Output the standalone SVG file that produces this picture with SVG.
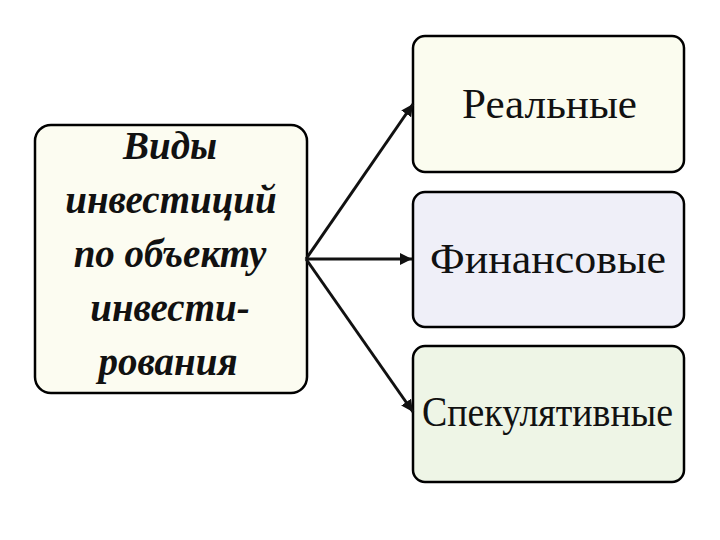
<svg xmlns="http://www.w3.org/2000/svg" width="720" height="540" viewBox="0 0 720 540">
<defs>
<style>
.box{stroke:#000;stroke-width:2.5}
.lt{font-family:"Liberation Serif","Times New Roman",serif;font-weight:bold;font-style:italic;font-size:39px;fill:#111;text-anchor:middle}
.rt{font-family:"Liberation Serif","Times New Roman",serif;font-size:42px;fill:#111;text-anchor:middle}
.con{stroke:#111;stroke-width:3;fill:none;marker-end:url(#ah)}
</style>
<marker id="ah" viewBox="0 0 10 10" refX="10" refY="5" markerWidth="4" markerHeight="4" orient="auto" markerUnits="strokeWidth">
<path d="M0,0 L10,5 L0,10 z" fill="#111"/>
</marker>
</defs>
<rect width="720" height="540" fill="#fff"/>
<g id="source">
<rect class="box" x="35" y="125" width="272" height="268" rx="16" fill="#fcfcf1"/>
<text class="lt" x="170" y="159">Виды</text>
<text class="lt" x="171" y="213">инвестиций</text>
<text class="lt" x="170" y="267">по объекту</text>
<text class="lt" x="170" y="321">инвести-</text>
<text class="lt" x="168" y="375">рования</text>
</g>
<g id="real">
<rect class="box" x="413" y="36" width="271" height="136" rx="12" fill="#fbfcef"/>
<text class="rt" x="549.5" y="118" textLength="175" lengthAdjust="spacingAndGlyphs">Реальные</text>
</g>
<g id="financial">
<rect class="box" x="413" y="192" width="271" height="135" rx="12" fill="#efeff8"/>
<text class="rt" x="548" y="273" textLength="236" lengthAdjust="spacingAndGlyphs">Финансовые</text>
</g>
<g id="speculative">
<rect class="box" x="413" y="346" width="271" height="136" rx="12" fill="#eef5e6"/>
<text class="rt" x="547.5" y="426" textLength="251" lengthAdjust="spacingAndGlyphs">Спекулятивные</text>
</g>
<g id="connectors">
<line class="con" x1="306" y1="259" x2="413" y2="104"/>
<line class="con" x1="306" y1="259" x2="412" y2="259"/>
<line class="con" x1="306" y1="259" x2="413" y2="412"/>
</g>
</svg>
